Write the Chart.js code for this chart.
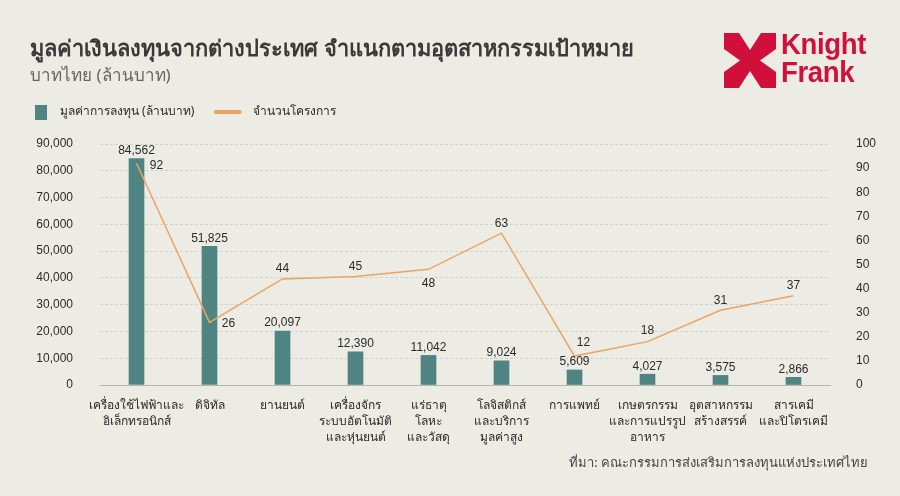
<!DOCTYPE html>
<html>
<head>
<meta charset="utf-8">
<script src="https://cdn.jsdelivr.net/npm/chart.js@4"></script>
<style>
  html, body { margin: 0; padding: 0; background: #ecebe4; }
  #wrap { position: relative; width: 900px; height: 496px; overflow: hidden; font-family: "Noto Sans", sans-serif; }
  #myChart { position: absolute; left: 0; top: 0; }
  .title { position: absolute; left: 30px; top: 31px; font-size: 21.8px; font-weight: bold; color: #3a3a3a; white-space: nowrap; }
  .subtitle { position: absolute; left: 30px; top: 61px; font-size: 17px; color: #666; white-space: nowrap; }
  .source { position: absolute; right: 32px; top: 452px; font-size: 13px; color: #444; white-space: nowrap; }
  .logo { position: absolute; left: 724px; top: 33px; }
  .logo-text { position: absolute; left: 781px; top: 30px; font-family: "Liberation Sans Narrow", "Liberation Sans", sans-serif; font-weight: bold; font-size: 29px; line-height: 28px; letter-spacing: -0.4px; color: #d0103a; transform: scaleX(0.95); transform-origin: left top; }
</style>
</head>
<body>
<div id="wrap">
  <canvas id="myChart" width="900" height="496"></canvas>
  <div class="title">มูลค่าเงินลงทุนจากต่างประเทศ จำแนกตามอุตสาหกรรมเป้าหมาย</div>
  <div class="subtitle">บาทไทย (ล้านบาท)</div>
  <svg class="logo" width="52" height="55" viewBox="0 0 52 55">
    <rect x="0" y="0" width="52" height="55" fill="#d0103a"/>
    <polygon points="15,0 37,0 26,17" fill="#ecebe4"/>
    <polygon points="15,55 37,55 26,38" fill="#ecebe4"/>
    <polygon points="0,16 0,39 16,27.5" fill="#ecebe4"/>
    <polygon points="52,16 52,39 36,27.5" fill="#ecebe4"/>
  </svg>
  <div class="logo-text">Knight<br>Frank</div>
  <div class="source">ที่มา: คณะกรรมการส่งเสริมการลงทุนแห่งประเทศไทย</div>
</div>
<script>
const categories = [
  ['เครื่องใช้ไฟฟ้าและ', 'อิเล็กทรอนิกส์'],
  ['ดิจิทัล'],
  ['ยานยนต์'],
  ['เครื่องจักร', 'ระบบอัตโนมัติ', 'และหุ่นยนต์'],
  ['แร่ธาตุ', 'โลหะ', 'และวัสดุ'],
  ['โลจิสติกส์', 'และบริการ', 'มูลค่าสูง'],
  ['การแพทย์'],
  ['เกษตรกรรม', 'และการแปรรูป', 'อาหาร'],
  ['อุตสาหกรรม', 'สร้างสรรค์'],
  ['สารเคมี', 'และปิโตรเคมี']
];
const investValues = [84562, 51825, 20097, 12390, 11042, 9024, 5609, 4027, 3575, 2866];
const projectCounts = [92, 26, 44, 45, 48, 63, 12, 18, 31, 37];
const seriesNames = ['มูลค่าการลงทุน (ล้านบาท)', 'จำนวนโครงการ'];
const leftTicks = [0, 90000, 10000];   // min, max, step
const rightTicks = [0, 100, 10];

const BAR_COLOR = '#4f8482';
const LINE_COLOR = '#eaa463';
const TEXT_COLOR = '#2b2b2b';
const FONT = '"Noto Sans", sans-serif';
const NUM_FONT = '"Liberation Sans", Arial, sans-serif';

// where each project-count label sits relative to its point
const lineLabelOffsets = [[20, 2], [19, 1], [0, -10], [0, -10], [0, 14], [0, -9], [9, -13], [0, -11], [0, -10], [0, -10]];

const valueLabels = {
  id: 'valueLabels',
  afterDatasetsDraw(chart) {
    const ctx = chart.ctx;
    ctx.save();
    ctx.font = '12px ' + NUM_FONT;
    ctx.fillStyle = TEXT_COLOR;
    ctx.textAlign = 'center';
    ctx.textBaseline = 'middle';
    chart.getDatasetMeta(0).data.forEach((bar, i) => {
      ctx.fillText(investValues[i].toLocaleString('en-US'), bar.x, bar.y - 8);
    });
    chart.getDatasetMeta(1).data.forEach((pt, i) => {
      const off = lineLabelOffsets[i];
      ctx.fillText(String(projectCounts[i]), pt.x + off[0], pt.y + off[1]);
    });
    ctx.restore();
  }
};

const customLegend = {
  id: 'customLegend',
  afterDraw(chart) {
    const ctx = chart.ctx;
    const y = 112;
    ctx.save();
    ctx.font = '12px ' + FONT;
    ctx.textBaseline = 'middle';
    let x = 35;
    chart.data.datasets.forEach((ds) => {
      if (ds.type === 'bar') {
        ctx.fillStyle = ds.backgroundColor;
        ctx.fillRect(x, y - 7, 12, 15);
        x += 25;
      } else {
        ctx.strokeStyle = ds.borderColor;
        ctx.lineWidth = 4;
        ctx.beginPath();
        ctx.moveTo(x, y);
        ctx.lineTo(x + 27, y);
        ctx.stroke();
        x += 39;
      }
      ctx.fillStyle = TEXT_COLOR;
      ctx.fillText(ds.label, x, y);
      x += ctx.measureText(ds.label).width + 20;
    });
    ctx.restore();
  }
};

const options = {
  type: 'bar',
  data: {
    labels: categories,
    datasets: [
      {
        type: 'bar',
        label: seriesNames[0],
        data: investValues,
        yAxisID: 'y',
        backgroundColor: BAR_COLOR,
        barThickness: 15,
        order: 2
      },
      {
        type: 'line',
        label: seriesNames[1],
        data: projectCounts,
        yAxisID: 'y1',
        borderColor: LINE_COLOR,
        backgroundColor: LINE_COLOR,
        borderWidth: 1.5,
        pointRadius: 0,
        tension: 0,
        order: 1
      }
    ]
  },
  options: {
    responsive: false,
    animation: false,
    layout: { padding: { left: 30, right: 20, top: 144, bottom: 0 } },
    plugins: {
      legend: { display: false },
      tooltip: { enabled: false }
    },
    scales: {
      x: {
        grid: { display: false },
        border: { display: true, color: '#b5b5ae', width: 1 },
        ticks: {
          color: TEXT_COLOR,
          font: { family: FONT, size: 12, lineHeight: 1.33 },
          padding: 5,
          maxRotation: 0,
          autoSkip: false
        },
        afterFit(scale) { scale.height = 111; }
      },
      y: {
        position: 'left',
        min: leftTicks[0],
        max: leftTicks[1],
        grid: { color: '#d3d2ca', lineWidth: 1, drawTicks: false },
        border: { display: false, dash: [3, 2] },
        ticks: {
          stepSize: leftTicks[2],
          color: TEXT_COLOR,
          font: { family: NUM_FONT, size: 12 },
          padding: 27,
          callback: (v) => v.toLocaleString('en-US')
        },
        afterFit(scale) { scale.width = 70; }
      },
      y1: {
        position: 'right',
        min: rightTicks[0],
        max: rightTicks[1],
        grid: { display: false },
        border: { display: false },
        ticks: {
          stepSize: rightTicks[2],
          color: TEXT_COLOR,
          font: { family: NUM_FONT, size: 12 },
          padding: 18
        },
        afterFit(scale) { scale.width = 50; }
      }
    }
  },
  plugins: [valueLabels, customLegend]
};

const ctx = document.getElementById('myChart').getContext('2d');
new Chart(ctx, options);
</script>
</body>
</html>
